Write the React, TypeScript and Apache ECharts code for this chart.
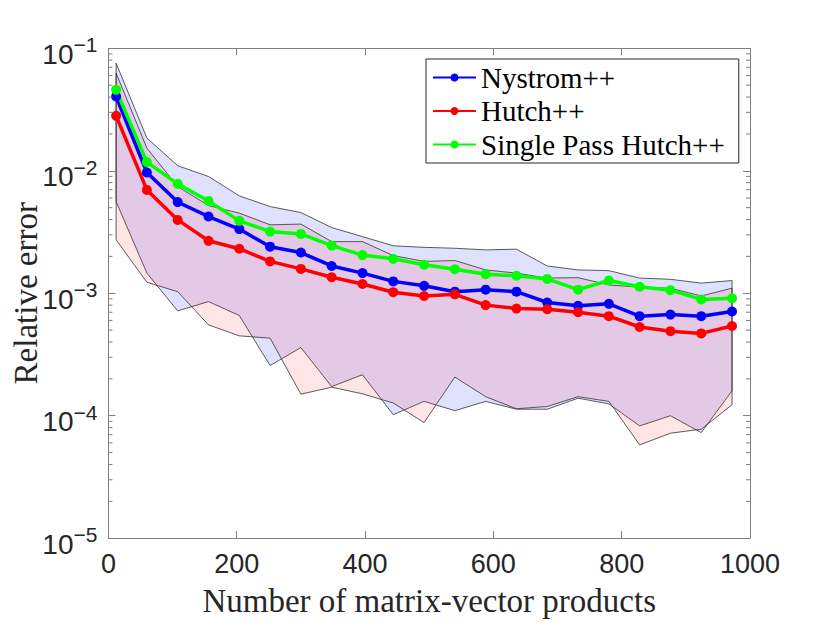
import React, { useEffect, useRef } from 'react';
import * as echarts from 'echarts';

// Number of matrix-vector products (x positions of the samples)
const products = [12, 60, 108, 156, 204, 252, 300, 348, 396, 444, 492, 540, 588, 636, 684, 732, 780, 828, 876, 924, 972];

// Mean relative errors
const nystrom = [0.0404, 0.00968, 0.00555, 0.00423, 0.00334, 0.0024, 0.00215, 0.00167, 0.00146, 0.00125, 0.00115, 0.00103, 0.00107, 0.00103, 0.00084, 0.00079, 0.00082, 0.00065, 0.00067, 0.00065, 0.00071];
const hutch = [0.0281, 0.00698, 0.00397, 0.00268, 0.00231, 0.00182, 0.00158, 0.00135, 0.00119, 0.00102, 0.00095, 0.00098, 0.0008, 0.00075, 0.00074, 0.0007, 0.00065, 0.00053, 0.00049, 0.00047, 0.00054];
const singlePass = [0.0458, 0.01177, 0.00782, 0.00567, 0.0039, 0.00319, 0.00305, 0.00245, 0.00205, 0.00191, 0.00171, 0.00157, 0.00143, 0.00139, 0.00131, 0.00107, 0.00127, 0.00113, 0.00106, 0.00089, 0.00091];

// Shaded ranges (upper / lower envelopes)
const nystromUpper = [0.0757, 0.0185, 0.011, 0.00898, 0.00624, 0.0051, 0.00456, 0.00344, 0.0029, 0.00244, 0.00237, 0.00233, 0.00226, 0.00229, 0.00167, 0.00155, 0.00153, 0.00133, 0.0013, 0.00121, 0.00127];
const nystromLower = [0.00561, 0.00146, 0.000718, 0.000855, 0.000658, 0.000257, 0.00036, 0.000173, 0.000216, 0.000102, 0.000131, 0.00011, 0.000131, 0.000113, 0.000113, 0.000139, 0.000125, 0.0000826, 0.0001, 0.0000728, 0.00016];
const hutchUpper = [0.0627, 0.0153, 0.00743, 0.0052, 0.00451, 0.00362, 0.00367, 0.00264, 0.00264, 0.00203, 0.00182, 0.00185, 0.00155, 0.00146, 0.00133, 0.00134, 0.00117, 0.00112, 0.0011, 0.00095, 0.0011];
const hutchLower = [0.00273, 0.00123, 0.00103, 0.000552, 0.000449, 0.00043, 0.00015, 0.000171, 0.000151, 0.000127, 0.0000879, 0.000207, 0.000143, 0.000114, 0.000119, 0.000143, 0.000131, 0.0000578, 0.000072, 0.0000776, 0.000123];

const seriesNames = ['Nystrom++', 'Hutch++', 'Single Pass Hutch++'];
const seriesColors = ['#0000ff', '#ff0000', '#00ff00'];
const xTicks = { min: 0, max: 1000, interval: 200 };
const yRange = { min: 1e-5, max: 1e-1 };
const minorMultipliers = [2, 3, 4, 5, 6, 7, 8, 9];
const decades = [-5, -4, -3, -2];

const AXIS_COLOR = '#7f7f7f';
const TEXT_COLOR = '#262626';
const SERIF = 'Liberation Serif';
const SANS = 'Liberation Sans';

export default function App() {
  const ref = useRef<HTMLDivElement>(null);

  useEffect(() => {
    if (!ref.current) return;
    const chart = echarts.init(ref.current, null, { renderer: 'svg' });

    const band = (upper: number[], lower: number[], fill: string) => ({
      type: 'custom',
      silent: true,
      clip: true,
      z: 1,
      data: products.map((x, i) => [x, lower[i], upper[i]]),
      encode: { x: 0, y: [1, 2] },
      renderItem: (params: any, api: any) => {
        if (params.dataIndex !== 0) return null;
        const pts: number[][] = [];
        for (let i = 0; i < products.length; i++) pts.push(api.coord([products[i], upper[i]]));
        for (let i = products.length - 1; i >= 0; i--) pts.push(api.coord([products[i], lower[i]]));
        return {
          type: 'polygon',
          shape: { points: pts },
          style: { fill, stroke: '#333333', lineWidth: 0.8 },
        };
      },
    });

    const minorValues: number[][] = [];
    decades.forEach((e) => minorMultipliers.forEach((m) => minorValues.push([0, m * Math.pow(10, e)])));

    const minorTicks = {
      type: 'custom',
      silent: true,
      clip: false,
      z: 5,
      data: minorValues,
      encode: { x: 0, y: 1 },
      renderItem: (_params: any, api: any) => {
        const v = api.value(1);
        const l = api.coord([xTicks.min, v]);
        const r = api.coord([xTicks.max, v]);
        return {
          type: 'group',
          children: [
            { type: 'line', shape: { x1: l[0], y1: l[1], x2: l[0] + 4, y2: l[1] }, style: { stroke: AXIS_COLOR, lineWidth: 1 } },
            { type: 'line', shape: { x1: r[0], y1: r[1], x2: r[0] - 4, y2: r[1] }, style: { stroke: AXIS_COLOR, lineWidth: 1 } },
          ],
        };
      },
    };

    const lineSeries = (idx: number, values: number[]) => ({
      type: 'line',
      name: seriesNames[idx],
      z: 3,
      data: products.map((x, i) => [x, values[i]]),
      symbol: 'circle',
      symbolSize: 10,
      lineStyle: { color: seriesColors[idx], width: 3.5 },
      itemStyle: { color: seriesColors[idx] },
    });

    const axisLine = { show: true, onZero: false, lineStyle: { color: AXIS_COLOR, width: 1 } };
    const axisTick = { show: true, inside: true, length: 7, lineStyle: { color: AXIS_COLOR, width: 1 } };

    const option: any = {
      animation: false,
      backgroundColor: '#ffffff',
      textStyle: { fontFamily: SERIF },
      grid: { left: 108.4, right: 80, top: 48.3, bottom: 84.8, containLabel: false, outerBoundsMode: 'none' },
      legend: {
        data: seriesNames,
        orient: 'vertical',
        left: 426,
        top: 59,
        padding: [4, 14, 4, 6],
        itemGap: 4.5,
        itemWidth: 43,
        itemHeight: 10,
        backgroundColor: '#ffffff',
        borderColor: '#262626',
        borderWidth: 1,
        textStyle: { fontFamily: SERIF, fontSize: 29, color: '#000000', lineHeight: 29 },
      },
      xAxis: [
        {
          type: 'value',
          position: 'bottom',
          ...xTicks,
          axisLine,
          axisTick,
          splitLine: { show: false },
          axisLabel: { fontFamily: SANS, fontSize: 27, color: TEXT_COLOR, margin: 12, formatter: (v: number) => String(v) },
          name: 'Number of matrix-vector products',
          nameLocation: 'middle',
          nameGap: 46,
          nameTextStyle: { fontFamily: SERIF, fontSize: 33, color: TEXT_COLOR },
        },
        {
          type: 'value',
          position: 'top',
          ...xTicks,
          axisLine,
          axisTick,
          splitLine: { show: false },
          axisLabel: { show: false },
        },
      ],
      yAxis: [
        {
          type: 'log',
          logBase: 10,
          position: 'left',
          ...yRange,
          axisLine,
          axisTick,
          splitLine: { show: false },
          axisLabel: {
            margin: 11,
            formatter: (v: number) => `{b|10}{s|\u2212${Math.abs(Math.round(Math.log10(v)))}}`,
            rich: {
              b: { fontFamily: SANS, fontSize: 28, color: TEXT_COLOR, verticalAlign: 'bottom', padding: [12, 0, 0, 0] },
              s: { fontFamily: SANS, fontSize: 21, color: TEXT_COLOR, verticalAlign: 'top', padding: [6, 0, 0, 0] },
            },
          },
          name: 'Relative error',
          nameLocation: 'middle',
          nameGap: 66,
          nameMoveOverlap: false,
          nameTextStyle: { fontFamily: SERIF, fontSize: 33, color: TEXT_COLOR },
        },
        {
          type: 'log',
          logBase: 10,
          position: 'right',
          ...yRange,
          axisLine,
          axisTick,
          splitLine: { show: false },
          axisLabel: { show: false },
        },
      ],
      series: [
        band(nystromUpper, nystromLower, 'rgba(0,0,255,0.12)'),
        band(hutchUpper, hutchLower, 'rgba(255,0,0,0.10)'),
        minorTicks,
        lineSeries(0, nystrom),
        lineSeries(1, hutch),
        lineSeries(2, singlePass),
      ],
    };

    chart.setOption(option);
    return () => chart.dispose();
  }, []);

  return (
    <div
      ref={ref}
      style={{ position: 'absolute', left: 0, top: 0, width: 830, height: 623, background: '#ffffff' }}
    />
  );
}
